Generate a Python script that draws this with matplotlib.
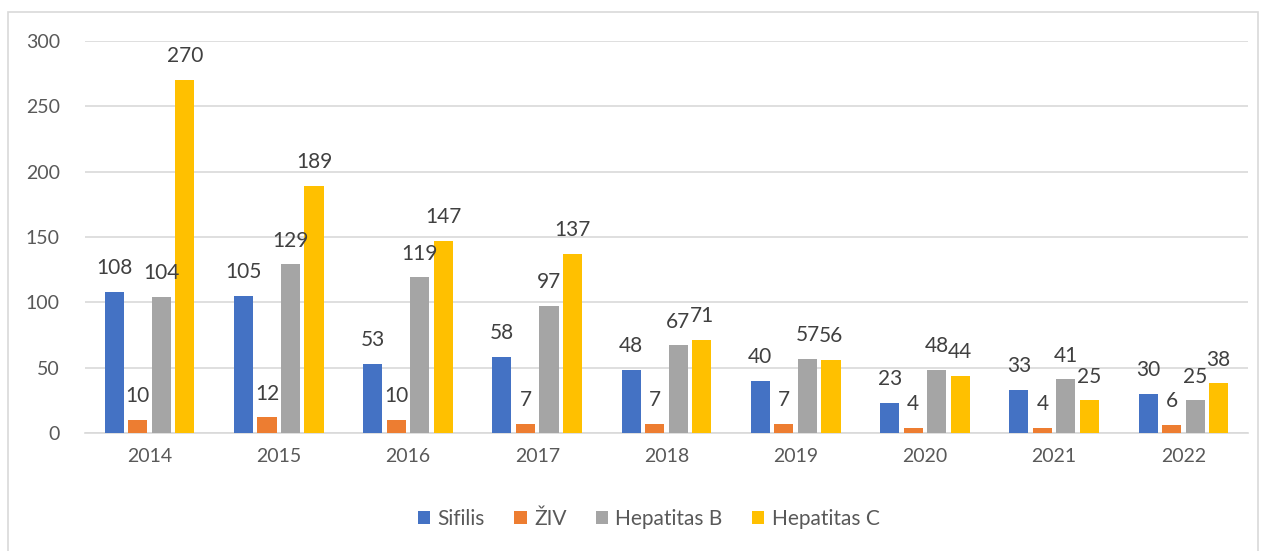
import numpy as np
import matplotlib.pyplot as plt
from matplotlib.patches import Rectangle

years = ["2014", "2015", "2016", "2017", "2018", "2019", "2020", "2021", "2022"]
sifilis = [108, 105, 53, 58, 48, 40, 23, 33, 30]
ziv = [10, 12, 10, 7, 7, 7, 4, 4, 6]
hep_b = [104, 129, 119, 97, 67, 57, 48, 41, 25]
hep_c = [270, 189, 147, 137, 71, 56, 44, 25, 38]

series = [
    ("Sifilis", sifilis, "#4472c4"),
    ("ŽIV", ziv, "#ed7d31"),
    ("Hepatitas B", hep_b, "#a5a5a5"),
    ("Hepatitas C", hep_c, "#ffc000"),
]

plt.rcParams["font.family"] = ["Lato", "DejaVu Sans"]

fig = plt.figure(figsize=(12.67, 5.51), dpi=100)
ax = fig.add_axes([0.067, 0.214, 0.918, 0.712])

# outer chart frame
fig.patches.append(Rectangle((8 / 1267, -0.01), 1250 / 1267, 1 - 12 / 551 + 0.01,
                             transform=fig.transFigure, fill=False,
                             edgecolor="#d9d9d9", linewidth=1.2))

x = np.arange(len(years))
step = 0.182
width = 0.148
for i, (name, vals, color) in enumerate(series):
    pos = x + (i - 1.5) * step
    bars = ax.bar(pos, vals, width, color=color, label=name, zorder=3)
    for b, v in zip(bars, vals):
        ax.annotate(str(v), (b.get_x() + b.get_width() / 2, v),
                    xytext=(0, 10), textcoords="offset points",
                    ha="center", va="bottom", fontsize=15, color="#404040",
                    zorder=4)

ax.set_xlim(-0.5, len(years) - 0.5)
ax.set_ylim(0, 300)
ax.set_yticks(range(0, 301, 50))
ax.set_xticks(x)
ax.set_xticklabels(years)
ax.tick_params(length=0, labelsize=14, colors="#595959")
ax.tick_params(axis="y", pad=18)
ax.tick_params(axis="x", pad=11)
ax.grid(axis="y", color="#d9d9d9", linewidth=1.2, zorder=0)
for s in ["top", "right", "left"]:
    ax.spines[s].set_visible(False)
ax.spines["bottom"].set_color("#d9d9d9")
ax.spines["bottom"].set_linewidth(1.2)

leg = fig.legend(loc="center", bbox_to_anchor=(0.512, 0.058), ncol=4, frameon=False,
                 fontsize=15, handlelength=0.6, handleheight=0.6,
                 handletextpad=0.35, columnspacing=1.4)
for t in leg.get_texts():
    t.set_color("#595959")

fig.savefig("out.png", dpi=100)
